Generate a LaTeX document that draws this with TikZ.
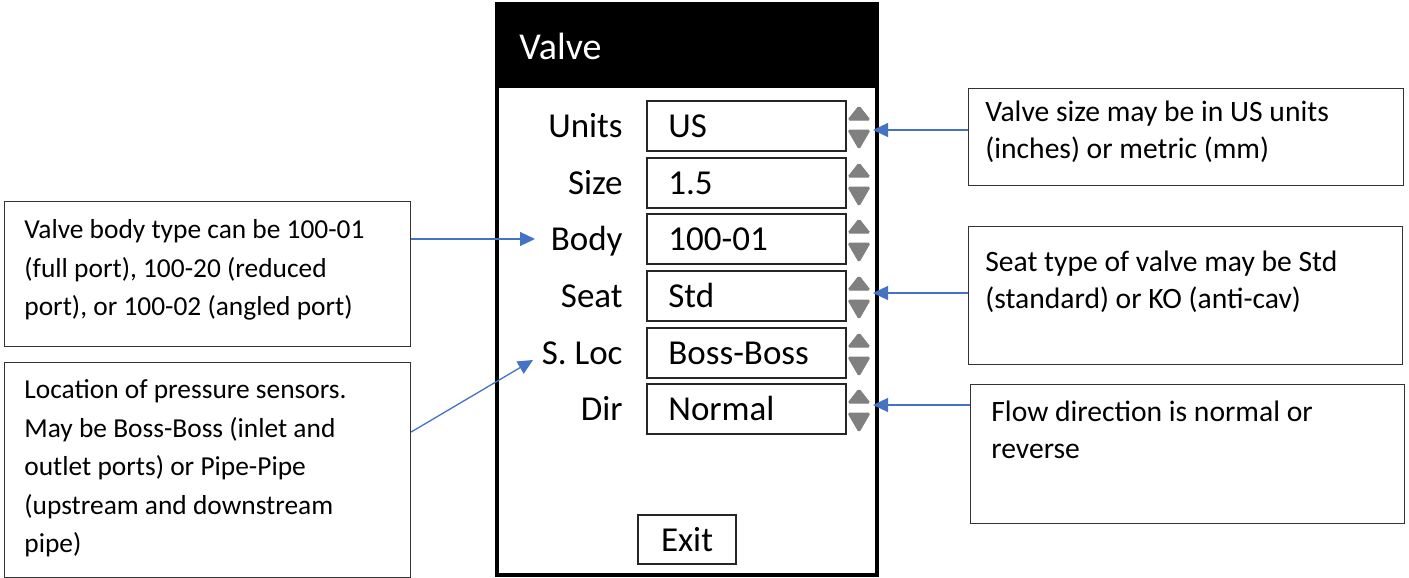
\documentclass[tikz,border=0pt]{standalone}
\usepackage{fontspec}
\setmainfont{Carlito}
\usetikzlibrary{arrows.meta,calc}
\definecolor{arrblue}{HTML}{4472C4}
\definecolor{spin}{HTML}{808080}
\tikzset{
  note/.style={draw=black!80,line width=0.6pt,anchor=north west,inner sep=0pt},
  notetext/.style={anchor=north west,inner sep=0pt,align=left,font=\fontsize{13.7}{19.25}\selectfont},
  rnotetext/.style={anchor=north west,inner sep=0pt,align=left,font=\fontsize{14.8}{18.5}\selectfont},
  field/.style={draw=black!85,line width=0.75pt,anchor=north west,inner sep=0pt,minimum width=99.5pt,minimum height=25pt},
  lbl/.style={anchor=base east,inner sep=0pt,font=\fontsize{17.5}{20}\selectfont},
  val/.style={anchor=base west,inner sep=0pt,font=\fontsize{17.5}{20}\selectfont},
  arr/.style={draw=arrblue,line width=0.65pt,-{Triangle[length=7.5pt,width=7pt]}},
  spinfill/.style={fill=spin,draw=spin,line width=0.5pt,rounded corners=0.8pt},
}
\newcommand{\spinner}[1]{%
  \path[spinfill] (848,#1+20) -- (859,#1+6) -- (870,#1+20) -- cycle;
  \path[spinfill] (848,#1+30) -- (859,#1+49) -- (870,#1+30) -- cycle;}
\begin{document}
\begin{tikzpicture}[x=0.5pt,y=-0.5pt]
\useasboundingbox (0,0) rectangle (1409,578);
% window
\fill[black] (497,4) rectangle (877,88);
\draw[black,line width=2pt] (497,4) rectangle (877,575);
\node[anchor=base west,inner sep=0pt,text=white,font=\fontsize{19}{22}\selectfont] (title) at (519,59) {Valve};
% rows
\foreach \t/\l/\v/\n in {100/Units/US/units,157/Size/1.5/size,213/Body/100-01/body,270/Seat/Std/seat,327/S. Loc/Boss-Boss/sloc,383/Dir/Normal/dir}{
  \node[field] (f\n) at (646,\t) {};
  \node[lbl] (\n) at (623,\t+37) {\l};
  \node[val] (v\n) at (668,\t+37) {\v};
  \spinner{\t}
}
\node[draw=black!85,line width=0.75pt,minimum width=49pt,minimum height=24.5pt,inner sep=0pt,font=\fontsize{17.5}{20}\selectfont] (exit) at (687,539.5) {Exit};
% left notes
\node[note,minimum width=203pt,minimum height=72.5pt] (lb1) at (4,201) {};
\node[notetext] (lt1) at (24,219.5) {Valve body type can be 100-01\\(full port), 100-20 (reduced\\port), or 100-02 (angled port)};
\node[note,minimum width=203pt,minimum height=107.5pt] (lb2) at (4,362) {};
\node[notetext] (lt2) at (24,379.5) {Location of pressure sensors.\\May be Boss-Boss (inlet and\\outlet ports) or Pipe-Pipe\\(upstream and downstream\\pipe)};
% right notes
\node[note,minimum width=217.5pt,minimum height=48.5pt] (rb1) at (968,88) {};
\node[rnotetext] (rt1) at (985,101) {Valve size may be in US units\\(inches) or metric (mm)};
\node[note,minimum width=217pt,minimum height=69pt] (rb2) at (968,226) {};
\node[rnotetext] (rt2) at (985,251) {Seat type of valve may be Std\\(standard) or KO (anti-cav)};
\node[note,minimum width=217pt,minimum height=69.5pt] (rb3) at (970,384) {};
\node[rnotetext] (rt3) at (991,401) {Flow direction is normal or\\reverse};
% connector targets
\coordinate (su) at (873,130);
\coordinate (ss) at (873,293);
\coordinate (sd) at (873,405);
\coordinate (tb) at (535,239);
\coordinate (tl) at (533,360);
% arrows
\draw[arr] (rb1.west |- su) -- (su);
\draw[arr] (rb2.west |- ss) -- (ss);
\draw[arr] (rb3.west |- sd) -- (sd);
\draw[arr] (lb1.east |- tb) -- (tb);
\draw[arr] ($(lb2.north east)+(0,70)$) -- (tl);
\end{tikzpicture}
\end{document}
